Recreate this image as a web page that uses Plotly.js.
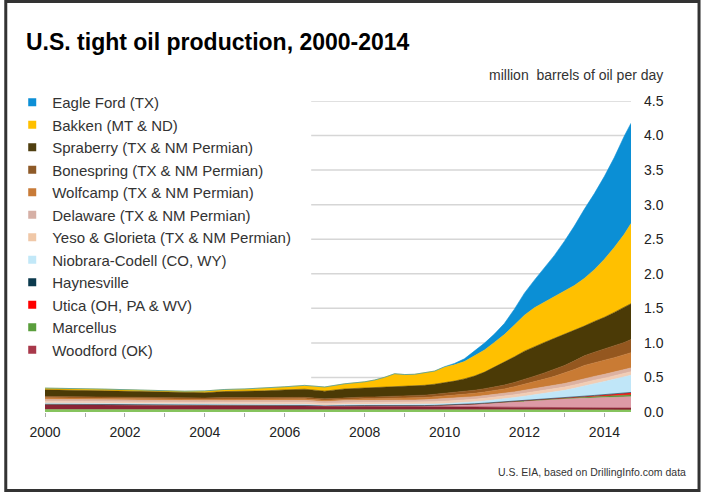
<!DOCTYPE html>
<html><head><meta charset="utf-8">
<script src="https://cdn.plot.ly/plotly-3.0.1.min.js"></script>
<style>html,body{margin:0;padding:0;background:#fff}#chart{width:703px;height:498px}</style>
</head><body><div id="chart"></div><script>
// ---- data (million barrels of oil per day) ----
const dates = ['2000-01','2000-07','2001-01','2001-07','2002-01','2002-07','2003-01','2003-07','2004-01','2004-07','2005-01','2005-07','2006-01','2006-07','2007-01','2007-07','2008-01','2008-04','2008-07','2008-10','2009-01','2009-04','2009-07','2009-10','2010-01','2010-04','2010-07','2010-10','2011-01','2011-04','2011-07','2011-10','2012-01','2012-04','2012-07','2012-10','2013-01','2013-04','2013-07','2013-10','2014-01','2014-04','2014-07','2014-09'];

const otherGreen = [.035,.035,.035,.035,.035,.035,.035,.035,.035,.035,.035,.035,.035,.035,.032,.034,.034,.034,.034,.034,.034,.034,.034,.034,.032,.032,.032,.032,.032,.032,.032,.032,.032,.032,.03,.03,.03,.03,.03,.03,.03,.03,.03,.03];
const woodford = [.07,.068,.066,.064,.062,.06,.058,.057,.056,.055,.055,.054,.053,.052,.045,.05,.05,.049,.048,.047,.046,.045,.044,.043,.042,.041,.04,.039,.038,.037,.036,.035,.034,.033,.032,.031,.03,.03,.029,.029,.028,.028,.027,.027];
const otherPink = [.008,.008,.009,.008,.008,.007,.008,.008,.008,.009,.008,.008,.008,.009,.007,.008,.009,.009,.009,.01,.01,.012,.015,.02,.025,.03,.038,.045,.055,.065,.075,.088,.1,.11,.12,.125,.13,.135,.14,.145,.15,.155,.16,.165];
const marcellus = [0,0,0,0,0,0,0,0,0,0,0,0,0,0,0,0,0,0,0,0,0,0,0,0,0,0,0,0,0,0,.002,.003,.004,.005,.006,.008,.01,.012,.015,.016,.018,.02,.022,.025];
const utica = [0,0,0,0,0,0,0,0,0,0,0,0,0,0,0,0,0,0,0,0,0,0,0,0,0,0,0,0,0,0,0,0,0,0,.002,.003,.005,.008,.012,.016,.02,.024,.028,.032];
const haynesville = [0,0,0,0,0,0,0,0,0,0,0,0,0,0,0,0,0,0,0,0,0,0,0,0,.002,.002,.003,.003,.003,.003,.003,.003,.003,.003,.003,.003,.003,.003,.003,.004,.004,.004,.004,.004];
const niobrara = [.015,.015,.014,.014,.014,.013,.013,.013,.013,.014,.014,.014,.015,.015,.013,.015,.015,.015,.016,.016,.016,.016,.017,.018,.02,.022,.025,.028,.032,.036,.04,.047,.055,.065,.075,.09,.105,.125,.15,.17,.19,.21,.235,.25];
const yeso = [.029,.028,.028,.028,.027,.027,.027,.027,.027,.028,.028,.029,.029,.03,.028,.03,.031,.031,.032,.032,.032,.033,.033,.034,.035,.036,.036,.037,.038,.039,.04,.041,.043,.044,.045,.046,.047,.048,.049,.05,.05,.05,.05,.05];
const delaware = [.028,.028,.027,.027,.027,.026,.026,.026,.026,.027,.027,.028,.028,.029,.027,.029,.03,.03,.031,.031,.032,.032,.033,.034,.035,.036,.037,.038,.039,.04,.041,.042,.044,.046,.048,.05,.052,.054,.055,.055,.055,.055,.055,.055];
const wolfcamp = [.02,.02,.02,.02,.019,.019,.019,.019,.019,.02,.02,.02,.021,.021,.019,.021,.024,.025,.026,.028,.03,.032,.034,.037,.04,.042,.045,.048,.052,.058,.065,.075,.085,.1,.115,.13,.15,.17,.19,.2,.205,.21,.215,.22];
const bonespring = [.021,.021,.02,.02,.02,.02,.019,.019,.019,.02,.02,.02,.021,.021,.019,.021,.024,.025,.026,.028,.03,.032,.034,.037,.04,.041,.043,.045,.048,.052,.056,.062,.07,.08,.09,.1,.11,.125,.14,.15,.16,.17,.18,.19];
const spraberry = [.095,.097,.092,.09,.088,.082,.076,.072,.076,.088,.092,.098,.11,.118,.112,.125,.13,.135,.14,.148,.142,.14,.142,.145,.15,.165,.18,.205,.24,.285,.33,.37,.41,.43,.44,.45,.45,.44,.43,.445,.46,.485,.505,.52];
const bakken = [.025,.025,.025,.025,.024,.024,.025,.025,.026,.03,.035,.04,.045,.055,.06,.075,.09,.11,.14,.18,.17,.17,.18,.19,.23,.235,.25,.29,.32,.36,.40,.46,.52,.56,.58,.60,.62,.65,.69,.75,.84,.94,1.06,1.16];
const eagleFord = [0,0,0,0,0,0,0,0,0,0,0,0,0,0,0,0,0,0,0,0,0,0,0,0,.005,.02,.04,.07,.10,.12,.16,.23,.32,.40,.50,.60,.73,.86,1.0,1.1,1.2,1.3,1.42,1.45];

const legendNames = ['Eagle Ford (TX)','Bakken (MT & ND)','Spraberry (TX & NM Permian)','Bonespring (TX & NM Permian)','Wolfcamp (TX & NM Permian)','Delaware (TX & NM Permian)','Yeso & Glorieta (TX & NM Permian)','Niobrara-Codell (CO, WY)','Haynesville','Utica (OH, PA & WV)','Marcellus','Woodford (OK)'];
const xTickYears = ['2000','2002','2004','2006','2008','2010','2012','2014'];
const yTicks = [0,0.5,1,1.5,2,2.5,3,3.5,4,4.5];

// ---- styling ----
const FONT = 'Liberation Sans, Arial, sans-serif';
const stackSeries = [
  {name:'Other (green)', y: otherGreen, color:'#86c45e'},
  {name:'Woodford (OK)', y: woodford, color:'#8a2434', lc:'#a8384a'},
  {name:'Other (pink)', y: otherPink, color:'#dd9aa6'},
  {name:'Marcellus', y: marcellus, color:'#4f9a34', lc:'#5a9e3c'},
  {name:'Utica (OH, PA & WV)', y: utica, color:'#ff1a1a', lc:'#ff0000'},
  {name:'Haynesville', y: haynesville, color:'#0c3a4e', lc:'#0c3a4e'},
  {name:'Niobrara-Codell (CO, WY)', y: niobrara, color:'#c0e6f8', lc:'#c2e8f8'},
  {name:'Yeso & Glorieta (TX & NM Permian)', y: yeso, color:'#f2cdb4', lc:'#f0c8a8'},
  {name:'Delaware (TX & NM Permian)', y: delaware, color:'#dcb2a2', lc:'#d6b0a6'},
  {name:'Wolfcamp (TX & NM Permian)', y: wolfcamp, color:'#c97b34', lc:'#c87b38'},
  {name:'Bonespring (TX & NM Permian)', y: bonespring, color:'#94571f', lc:'#8e5a28'},
  {name:'Spraberry (TX & NM Permian)', y: spraberry, color:'#4b3a06', lc:'#4f3f10'},
  {name:'Bakken (MT & ND)', y: bakken, color:'#ffc000', lc:'#ffc000'},
  {name:'Eagle Ford (TX)', y: eagleFord, color:'#0b8fd5', lc:'#0d8fd6'}
];

const traces = stackSeries.map(s => ({
  type:'scatter', mode:'lines', x: dates, y: s.y, name: s.name,
  stackgroup:'one', line:{width:0.6, color:s.color}, fillcolor:s.color,
  showlegend:false, hoverinfo:'x+y+name'
}));
// legend entries (small squares), in the reference's order
legendNames.forEach(n => {
  const s = stackSeries.find(d => d.name === n);
  traces.push({type:'scatter', mode:'markers', x:[null], y:[null], name:n,
    marker:{symbol:'square', size:8, color:s.lc}, showlegend:true, hoverinfo:'skip'});
});

const L = 41, R = 72, T = 101, B = 86, W = 703, H = 498;
const pw = W - L - R, ph = H - T - B;
const px = x => (x - L) / pw;          // pixel -> paper x
const py = y => (H - B - y) / ph;      // pixel -> paper y

const shapes = yTicks.filter(v => v > 0).map(v => ({
  type:'line', xref:'paper', yref:'y', x0: px(309), x1: 1, y0: v, y1: v,
  line:{color:'#d6d6d6', width:1.5}, layer:'below'
}));
shapes.push({type:'rect', xref:'paper', yref:'paper', x0: px(1.5), x1: px(699.5), y0: py(490.5), y1: py(1.5),
  line:{color:'#333', width:3}, fillcolor:'rgba(0,0,0,0)', layer:'above'});

const layout = {
  width: W, height: H,
  margin:{l:L, r:R, t:T, b:B, pad:0},
  paper_bgcolor:'#fff', plot_bgcolor:'#fff',
  font:{family:FONT, color:'#222'},
  title:{text:'<b>U.S. tight oil production, 2000-2014</b>', font:{size:23, color:'#000', family:FONT},
    xref:'container', yref:'container', x: 26/W, xanchor:'left', y: 1 - 42/H, yanchor:'middle'},
  showlegend:true,
  legend:{x: px(8), y: py(86), xanchor:'left', yanchor:'top', font:{size:15, color:'#333', family:FONT},
    bgcolor:'rgba(0,0,0,0)', borderwidth:0, traceorder:'normal', maxheight:400},
  xaxis:{type:'date', range:['2000-01-01','2014-09-01'], tickvals: xTickYears.map(y => y + '-01-01'), ticktext: xTickYears,
    ticks:'outside', ticklen:4, tickcolor:'#aaa', tickwidth:1, showgrid:false, zeroline:false, showline:false,
    tickfont:{size:14, color:'#222'}, ticklabelstandoff:3,
    minor:{dtick:'M12', tick0:'2000-01-01', ticks:'outside', ticklen:4, tickcolor:'#aaa', showgrid:false}, fixedrange:true},
  yaxis:{side:'right', range:[0,4.5], tickvals:yTicks, tickformat:'.1f', ticks:'', showgrid:false, zeroline:false, showline:false,
    tickfont:{size:14, color:'#222'}, ticklabelstandoff:12, fixedrange:true},
  shapes: shapes,
  annotations:[
    {text:'million&nbsp; barrels of oil per day', xref:'paper', yref:'paper', x: px(665), y: py(75), xanchor:'right', yanchor:'middle',
      showarrow:false, font:{size:14, color:'#333', family:FONT}},
    {text:'U.S. EIA, based on DrillingInfo.com data', xref:'paper', yref:'paper', x: px(688), y: py(472), xanchor:'right', yanchor:'middle',
      showarrow:false, font:{size:10.5, color:'#333', family:FONT}}
  ]
};

Plotly.newPlot('chart', traces, layout, {displayModeBar:false, staticPlot:true});
</script></body></html>
